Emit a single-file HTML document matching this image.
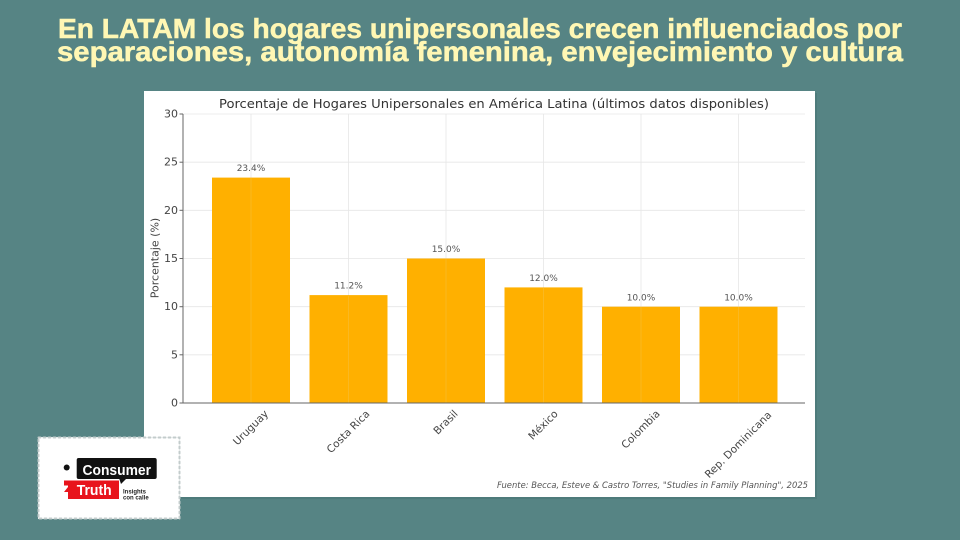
<!DOCTYPE html>
<html><head><meta charset="utf-8"><style>
html,body{margin:0;padding:0;background:#568484;}
svg{display:block;}
</style></head><body>
<svg width="960" height="540" viewBox="0 0 960 540" xmlns="http://www.w3.org/2000/svg">
<rect x="0" y="0" width="960" height="540" fill="#568484"/>
<!-- headline -->
<g font-family="'Liberation Sans', sans-serif" font-weight="bold" font-size="28" fill="#FFF7B4" stroke="#FFF7B4" stroke-width="0.5">
<text x="58" y="38" textLength="844" lengthAdjust="spacingAndGlyphs">En LATAM los hogares unipersonales crecen influenciados por</text>
<text x="57" y="61" textLength="846" lengthAdjust="spacingAndGlyphs">separaciones, autonomía femenina, envejecimiento y cultura</text>
</g>
<!-- chart panel -->
<rect x="146" y="93" width="671" height="406" fill="#3f6a6a" opacity="0.35"/>
<rect x="144" y="91" width="671" height="406" fill="#ffffff"/>
<g font-family="'DejaVu Sans', 'Liberation Sans', sans-serif">
<text x="219" y="108" font-size="12.5" fill="#333" textLength="550" lengthAdjust="spacingAndGlyphs">Porcentaje de Hogares Unipersonales en América Latina (últimos datos disponibles)</text>
<!-- grid -->
<g stroke="#e6e6e6" stroke-width="0.8">
<line x1="183" y1="114" x2="805" y2="114"/>
<line x1="183" y1="162.2" x2="805" y2="162.2"/>
<line x1="183" y1="210.3" x2="805" y2="210.3"/>
<line x1="183" y1="258.5" x2="805" y2="258.5"/>
<line x1="183" y1="306.7" x2="805" y2="306.7"/>
<line x1="183" y1="354.8" x2="805" y2="354.8"/>
<line x1="251" y1="114" x2="251" y2="403"/>
<line x1="348.5" y1="114" x2="348.5" y2="403"/>
<line x1="446" y1="114" x2="446" y2="403"/>
<line x1="543.5" y1="114" x2="543.5" y2="403"/>
<line x1="641" y1="114" x2="641" y2="403"/>
<line x1="738.5" y1="114" x2="738.5" y2="403"/>
</g>
<!-- bars -->
<g fill="#FFB000">
<rect x="212" y="177.6" width="78" height="225.4"/>
<rect x="309.5" y="295.1" width="78" height="107.9"/>
<rect x="407" y="258.5" width="78" height="144.5"/>
<rect x="504.5" y="287.4" width="78" height="115.6"/>
<rect x="602" y="306.7" width="78" height="96.3"/>
<rect x="699.5" y="306.7" width="78" height="96.3"/>
</g>
<g stroke="#f2c75a" stroke-width="0.6" opacity="0.6">
<line x1="251" y1="178" x2="251" y2="403"/>
<line x1="348.5" y1="296" x2="348.5" y2="403"/>
<line x1="446" y1="259" x2="446" y2="403"/>
<line x1="543.5" y1="288" x2="543.5" y2="403"/>
<line x1="641" y1="307" x2="641" y2="403"/>
<line x1="738.5" y1="307" x2="738.5" y2="403"/>
</g>
<!-- value labels -->
<g font-size="9" fill="#555" text-anchor="middle">
<text x="251" y="171">23.4%</text>
<text x="348.5" y="288.5">11.2%</text>
<text x="446" y="252">15.0%</text>
<text x="543.5" y="281">12.0%</text>
<text x="641" y="300.5">10.0%</text>
<text x="738.5" y="300.5">10.0%</text>
</g>
<!-- axes -->
<g stroke="#666" stroke-width="1">
<line x1="183" y1="114" x2="183" y2="403.5"/>
<line x1="183" y1="403" x2="805" y2="403"/>
<line x1="179.5" y1="114" x2="183" y2="114"/>
<line x1="179.5" y1="162.2" x2="183" y2="162.2"/>
<line x1="179.5" y1="210.3" x2="183" y2="210.3"/>
<line x1="179.5" y1="258.5" x2="183" y2="258.5"/>
<line x1="179.5" y1="306.7" x2="183" y2="306.7"/>
<line x1="179.5" y1="354.8" x2="183" y2="354.8"/>
<line x1="179.5" y1="403" x2="183" y2="403"/>
</g>
<g font-size="11" fill="#444" text-anchor="end" dominant-baseline="central">
<text x="178" y="114">30</text>
<text x="178" y="162.2">25</text>
<text x="178" y="210.3">20</text>
<text x="178" y="258.5">15</text>
<text x="178" y="306.7">10</text>
<text x="178" y="354.8">5</text>
<text x="178" y="403">0</text>
</g>
<text x="155" y="258" font-size="11" fill="#444" text-anchor="middle" dominant-baseline="central" transform="rotate(-90 155 258)">Porcentaje (%)</text>
<!-- x labels -->
<g font-size="10.5" fill="#444" text-anchor="middle" dominant-baseline="central">
<text x="251" y="428" transform="rotate(-45 251 428)">Uruguay</text>
<text x="348.5" y="432" transform="rotate(-45 348.5 432)">Costa Rica</text>
<text x="446" y="422.6" transform="rotate(-45 446 422.6)">Brasil</text>
<text x="543.5" y="425.3" transform="rotate(-45 543.5 425.3)">México</text>
<text x="641" y="429.7" transform="rotate(-45 641 429.7)">Colombia</text>
<text x="738.5" y="445" transform="rotate(-45 738.5 445)">Rep. Dominicana</text>
</g>
<text x="808" y="488" font-size="8.5" font-style="italic" fill="#555" text-anchor="end" textLength="311" lengthAdjust="spacingAndGlyphs">Fuente: Becca, Esteve &amp; Castro Torres, "Studies in Family Planning", 2025</text>
</g>
<!-- logo stamp -->
<rect x="38" y="437" width="142" height="82" fill="#ffffff"/>
<rect x="38.5" y="437.5" width="141" height="81" fill="none" stroke="#c3cccc" stroke-width="2" stroke-dasharray="2 3" stroke-linecap="round"/>
<circle cx="66.7" cy="467.5" r="3" fill="#111"/>
<rect x="76.7" y="458" width="80" height="21" rx="2" fill="#111"/>
<polygon points="119,478 127,478 121,484" fill="#111"/>
<text x="82.5" y="475" font-family="'Liberation Sans', sans-serif" font-weight="bold" font-size="14.5" fill="#fff" textLength="68.5" lengthAdjust="spacingAndGlyphs">Consumer</text>
<polygon points="68,480.5 119,480.5 119,499 68,499 68,492 64,492 68,487" fill="#e8141c"/>
<rect x="64" y="480.5" width="6" height="5" fill="#e8141c"/>
<text x="76.7" y="495" font-family="'Liberation Sans', sans-serif" font-weight="bold" font-size="14.5" fill="#fff" textLength="35" lengthAdjust="spacingAndGlyphs">Truth</text>
<g font-family="'Liberation Sans', sans-serif" font-weight="bold" font-size="6" fill="#222">
<text x="123" y="493.5">Insights</text>
<text x="123" y="499.5">con calle</text>
</g>
</svg>
</body></html>
